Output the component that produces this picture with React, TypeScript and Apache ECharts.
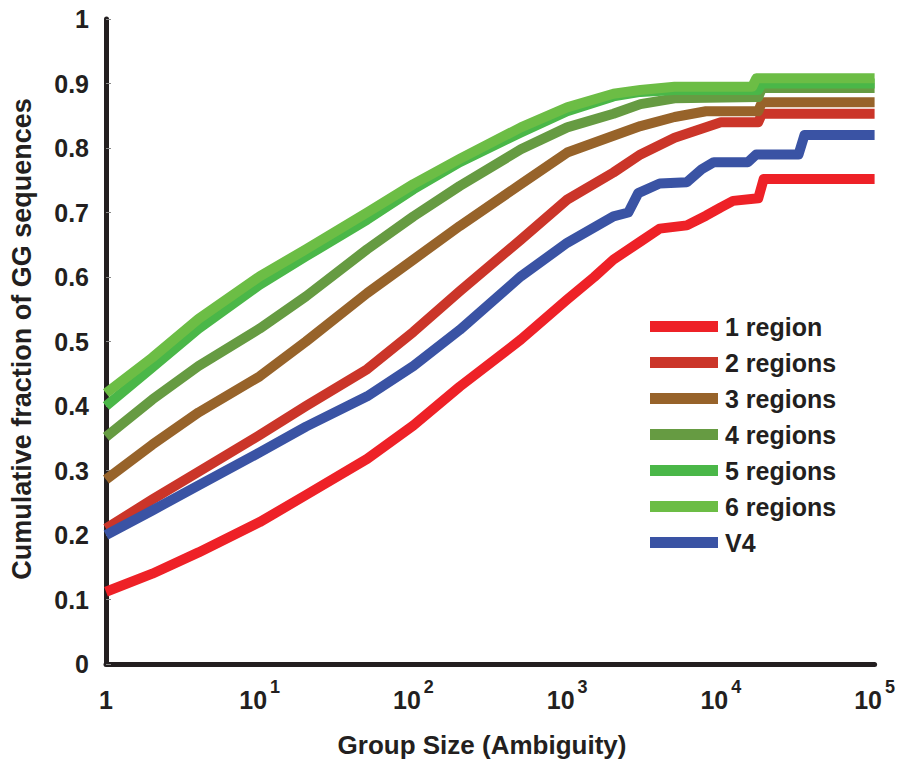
import React, { useEffect, useRef } from "react";
import * as echarts from "echarts";

const seriesNames = ["1 region", "2 regions", "3 regions", "4 regions", "5 regions", "6 regions", "V4"];
const seriesColors = ["#EE2127", "#CB3529", "#97632A", "#669B42", "#4AB748", "#6CBD45", "#3A53A4"];

const region1: [number, number][] = [
  [1, 0.112], [2, 0.14], [4, 0.173], [10, 0.22], [20, 0.262], [50, 0.318], [100, 0.37],
  [200, 0.43], [500, 0.503], [1000, 0.565], [1500, 0.6], [2000, 0.627], [3000, 0.655],
  [4000, 0.675], [6000, 0.68], [8000, 0.695], [10000, 0.708], [12000, 0.718],
  [17500, 0.722], [19000, 0.752], [100000, 0.752],
];
const region2: [number, number][] = [
  [1, 0.21], [2, 0.255], [4, 0.298], [10, 0.355], [20, 0.4], [50, 0.457], [100, 0.515],
  [200, 0.578], [500, 0.658], [1000, 0.72], [2000, 0.762], [3000, 0.79], [5000, 0.816],
  [10000, 0.84], [17500, 0.84], [18500, 0.853], [100000, 0.853],
];
const region3: [number, number][] = [
  [1, 0.286], [2, 0.34], [4, 0.39], [10, 0.446], [20, 0.5], [50, 0.575], [100, 0.627],
  [200, 0.679], [500, 0.744], [1000, 0.793], [2000, 0.819], [3000, 0.834], [5000, 0.848],
  [8000, 0.857], [17500, 0.857], [18500, 0.871], [100000, 0.871],
];
const region4: [number, number][] = [
  [1, 0.352], [2, 0.41], [4, 0.462], [10, 0.52], [20, 0.57], [50, 0.643], [100, 0.694],
  [200, 0.741], [500, 0.798], [1000, 0.832], [2000, 0.853], [3000, 0.868], [5000, 0.877],
  [17500, 0.879], [18500, 0.893], [100000, 0.893],
];
const region5: [number, number][] = [
  [1, 0.4], [2, 0.46], [4, 0.52], [10, 0.588], [20, 0.632], [50, 0.689], [100, 0.736],
  [200, 0.778], [500, 0.824], [1000, 0.857], [2000, 0.88], [3000, 0.887], [5000, 0.89],
  [17500, 0.89], [18500, 0.9], [100000, 0.9],
];
const region6: [number, number][] = [
  [1, 0.42], [2, 0.475], [4, 0.535], [10, 0.601], [20, 0.643], [50, 0.7], [100, 0.744],
  [200, 0.783], [500, 0.832], [1000, 0.863], [2000, 0.884], [3000, 0.89], [5000, 0.895],
  [16000, 0.895], [17000, 0.908], [100000, 0.908],
];
const v4: [number, number][] = [
  [1, 0.2], [2, 0.238], [4, 0.277], [10, 0.328], [20, 0.368], [50, 0.415], [100, 0.462],
  [200, 0.518], [500, 0.601], [1000, 0.653], [2000, 0.694], [2500, 0.7], [2900, 0.73],
  [4000, 0.745], [6000, 0.747], [7500, 0.767], [9000, 0.778], [15000, 0.778], [17000, 0.79],
  [32000, 0.79], [35000, 0.82], [100000, 0.82],
];
const seriesData = [region1, region2, region3, region4, region5, region6, v4];

const xTitle = "Group Size (Ambiguity)";
const yTitle = "Cumulative fraction of GG sequences";

const FONT = "'Liberation Sans', Arial, Helvetica, sans-serif";
const INK = "#231F20";

export default function App() {
  const ref = useRef<HTMLDivElement>(null);
  useEffect(() => {
    if (!ref.current) return;
    const chart = echarts.init(ref.current, null, { renderer: "svg" });
    chart.setOption({
      animation: false,
      backgroundColor: "#ffffff",
      grid: { left: 106, top: 19, width: 771, height: 645, containLabel: false },
      legend: {
        orient: "vertical",
        left: 645,
        top: 309,
        icon: "rect",
        itemWidth: 68,
        itemHeight: 11,
        itemGap: 11,
        data: seriesNames,
        textStyle: {
          fontFamily: FONT,
          fontWeight: "bold",
          fontSize: 25,
          lineHeight: 25,
          color: INK,
          padding: [0, 0, 0, 2],
        },
      },
      xAxis: {
        type: "log",
        logBase: 10,
        min: 1,
        max: 100000,
        axisLine: { show: true, onZero: false, lineStyle: { color: INK, width: 5 } },
        axisTick: { show: false },
        splitLine: { show: false },
        minorTick: { show: false },
        axisLabel: {
          margin: 14,
          formatter: (v: number) => {
            const e = Math.round(Math.log10(v));
            return e === 0 ? "{b|1}" : `{b|10}{s|${e}}`;
          },
          rich: {
            b: { fontFamily: FONT, fontWeight: "bold", fontSize: 25, color: INK, lineHeight: 34, verticalAlign: "bottom" },
            s: { fontFamily: FONT, fontWeight: "bold", fontSize: 18, color: INK, lineHeight: 18, verticalAlign: "top", padding: [0, 0, 0, 3] },
          },
        },
      },
      yAxis: {
        type: "value",
        min: 0,
        max: 1,
        interval: 0.1,
        axisLine: { show: true, onZero: false, lineStyle: { color: INK, width: 5 } },
        axisTick: { show: true, inside: true, length: 5, lineStyle: { color: "#888888", width: 1 } },
        splitLine: { show: false },
        axisLabel: {
          margin: 17,
          fontFamily: FONT,
          fontWeight: "bold",
          fontSize: 25,
          color: INK,
          formatter: (v: number) => (v === 0 ? "0" : Math.abs(v - 1) < 1e-9 ? "1" : v.toFixed(1)),
        },
      },
      graphic: [
        {
          type: "text",
          x: 482,
          y: 745,
          style: {
            text: xTitle,
            fontFamily: FONT,
            fontWeight: "bold",
            fontSize: 26,
            fill: INK,
            align: "center",
            verticalAlign: "middle",
          },
        },
        {
          type: "text",
          x: 22,
          y: 339,
          rotation: Math.PI / 2,
          style: {
            text: yTitle,
            fontFamily: FONT,
            fontWeight: "bold",
            fontSize: 27,
            fill: INK,
            align: "center",
            verticalAlign: "middle",
          },
        },
      ],
      series: seriesNames.map((name, i) => ({
        name,
        type: "line",
        data: seriesData[i],
        showSymbol: false,
        symbol: "none",
        clip: true,
        color: seriesColors[i],
        lineStyle: { color: seriesColors[i], width: 10, cap: "butt", join: "round" },
        itemStyle: { color: seriesColors[i] },
        z: 2,
      })),
    });
    return () => chart.dispose();
  }, []);
  return (
    <div
      ref={ref}
      style={{ position: "fixed", left: 0, top: 0, width: 898, height: 759, background: "#fff" }}
    />
  );
}
